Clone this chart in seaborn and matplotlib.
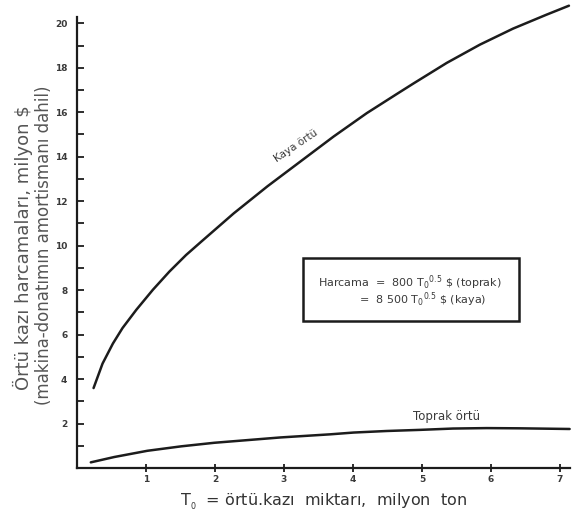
import matplotlib
matplotlib.use("Agg")
import matplotlib.pyplot as plt
import seaborn as sns
import pandas as pd
from matplotlib.patches import Rectangle

sns.set_theme(style="white")
plt.rcParams['font.family'] = ['DejaVu Sans']

# Kaya örtü (rock overburden) cost curve, million $
kaya_t = [0.24, 0.37, 0.52, 0.66, 0.86, 1.10, 1.34, 1.58, 1.80, 2.27, 2.76,
          3.24, 3.72, 4.20, 4.64, 4.88, 5.36, 5.84, 6.32, 6.80, 7.13]
kaya_cost = [3.6, 4.7, 5.6, 6.3, 7.12, 8.02, 8.84, 9.58, 10.18, 11.45, 12.67,
             13.79, 14.91, 15.96, 16.83, 17.3, 18.22, 19.04, 19.76, 20.38, 20.79]

# Toprak örtü (soil overburden) cost curve, million $
toprak_t = [0.2, 0.54, 1.02, 1.51, 1.99, 2.95, 3.67, 4.01, 4.49, 4.97,
            5.45, 5.94, 6.42, 7.14]
toprak_cost = [0.26, 0.5, 0.78, 0.98, 1.14, 1.38, 1.52, 1.6, 1.67, 1.72,
               1.78, 1.8, 1.79, 1.76]

x_ticks = [1, 2, 3, 4, 5, 6, 7]
y_ticks = [2, 4, 6, 8, 10, 12, 14, 16, 18, 20]

df = pd.concat([
    pd.DataFrame({"T": kaya_t, "cost": kaya_cost, "tip": "Kaya örtü"}),
    pd.DataFrame({"T": toprak_t, "cost": toprak_cost, "tip": "Toprak örtü"}),
])

fig = plt.figure(figsize=(5.79, 5.15), dpi=100)
ax = fig.add_axes([0.133, 0.091, 0.852, 0.907])

ink = "#1c1c1c"
txt = "#3a3a3a"
sns.lineplot(data=df, x="T", y="cost", units="tip", estimator=None,
             color=ink, lw=1.8, ax=ax, legend=False, clip_on=False)

ax.set_xlim(0, 7.15)
ax.set_ylim(0, 21)
sns.despine(ax=ax)
ax.spines['left'].set_bounds(0, 20.3)
for s in ("left", "bottom"):
    ax.spines[s].set_linewidth(1.6)
    ax.spines[s].set_color(ink)

ax.set_xticks(x_ticks)
ax.set_xticklabels([str(v) for v in x_ticks], fontsize=6.5, fontweight="bold", color=txt)
ax.set_yticks(y_ticks)
ax.set_yticklabels([str(v) for v in y_ticks], fontsize=6.5, fontweight="bold", color=txt)
ax.set_yticks(range(1, 21, 2), minor=True)
ax.tick_params(axis="y", which="both", direction="in", length=5, width=1.3, color=ink, pad=7, left=True)
ax.tick_params(axis="x", which="major", direction="inout", length=6, width=1.3, color=ink, pad=2, bottom=True)

ax.set_xlabel("T$_{_0}$  = örtü.kazı  miktarı,  milyon  ton", fontsize=11.5, color="#333333", labelpad=5)
ax.set_ylabel("")

# two-line vertical axis title
fig.text(23 / 579, 1 - 248 / 515, "Örtü kazı harcamaları, milyon $", rotation=90,
         fontsize=13, color="#555555", ha="center", va="center")
fig.text(44 / 579, 1 - 245 / 515, "(makina-donatımın amortismanı dahil)", rotation=90,
         fontsize=12, color="#555555", ha="center", va="center")

ax.text(3.17, 14.5, "Kaya örtü", fontsize=7.5, rotation=34, color=txt,
        ha="center", va="center", rotation_mode="anchor")
ax.text(5.35, 2.31, "Toprak örtü", fontsize=8.5, color=txt, ha="center", va="center")

box = Rectangle((3.27, 6.6), 3.13, 2.85, fill=False, lw=1.8, edgecolor=ink)
ax.add_patch(box)
ax.text(3.5, 8.35, "Harcama  =  800 T$_0$$^{0.5}$ \\$ (toprak)", fontsize=8, color=txt,
        va="center")
ax.text(4.08, 7.55, "=  8 500 T$_0$$^{0.5}$ \\$ (kaya)", fontsize=8, color=txt,
        va="center")

fig.savefig("out.png", dpi=100)
